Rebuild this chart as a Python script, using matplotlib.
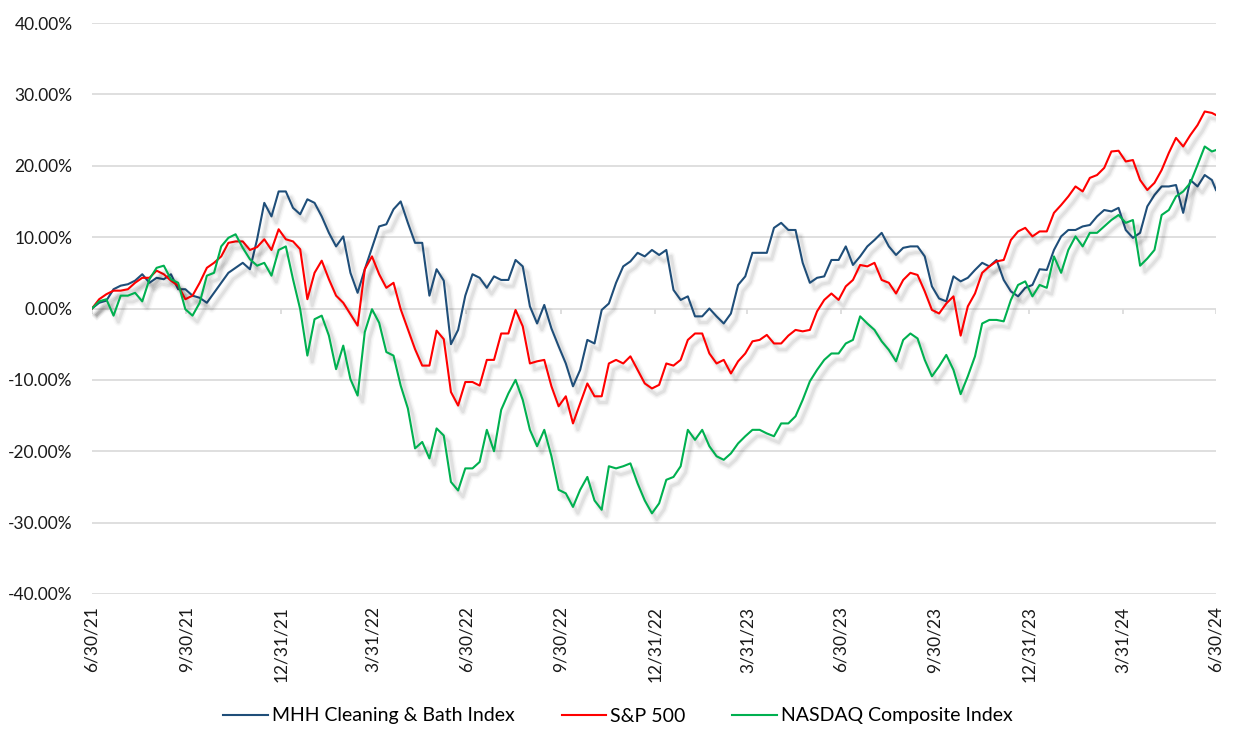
import matplotlib
matplotlib.use("Agg")
import matplotlib.pyplot as plt
import matplotlib.patheffects as pe
import pandas as pd

# weekly readings (% change since 6/30/21), last value is 6/30/24
mhh = [
    0.0, 0.8, 1.1, 2.7, 3.2, 3.4, 3.9, 4.8, 3.6, 4.3,
    4.1, 4.8, 2.7, 2.7, 1.8, 1.5, 0.8, 2.2, 3.6, 5.0,
    5.7, 6.4, 5.5, 9.7, 14.8, 12.9, 16.4, 16.4, 14.1, 13.2,
    15.3, 14.8, 12.9, 10.6, 8.7, 10.1, 5.0, 2.2, 5.5, 8.5,
    11.5, 11.8, 13.9, 15.0, 12.0, 9.2, 9.2, 1.8, 5.5, 3.9,
    -5.0, -3.0, 1.8, 4.8, 4.3, 2.9, 4.5, 4.0, 4.0, 6.8,
    5.9, 0.3, -2.1, 0.5, -2.8, -5.3, -7.7, -10.9, -8.6, -4.4,
    -4.9, -0.2, 0.7, 3.6, 5.9, 6.6, 7.8, 7.3, 8.2, 7.5,
    8.2, 2.6, 1.2, 1.7, -1.1, -1.1, 0.0, -1.1, -2.1, -0.7,
    3.3, 4.5, 7.8, 7.8, 7.8, 11.3, 12.0, 11.0, 11.0, 6.4,
    3.6, 4.3, 4.5, 6.8, 6.8, 8.7, 6.1, 7.3, 8.7, 9.6,
    10.6, 8.7, 7.5, 8.5, 8.7, 8.7, 7.3, 3.1, 1.4, 1.0,
    4.5, 3.8, 4.3, 5.4, 6.4, 5.9, 6.8, 4.0, 2.4, 1.7,
    2.9, 3.3, 5.5, 5.4, 8.2, 10.1, 11.0, 11.0, 11.5, 11.7,
    12.9, 13.8, 13.6, 14.1, 11.0, 9.9, 10.6, 14.3, 15.9, 17.1,
    17.1, 17.3, 13.4, 18.0, 17.1, 18.7, 18.0, 16.6,
]
sp500 = [
    0.0, 1.3, 2.0, 2.5, 2.5, 2.7, 3.6, 4.3, 4.3, 5.3,
    4.8, 3.9, 3.2, 1.3, 1.8, 3.6, 5.7, 6.4, 7.3, 9.2,
    9.4, 9.4, 8.2, 8.6, 9.7, 8.2, 11.1, 9.7, 9.4, 8.3,
    1.3, 5.0, 6.7, 4.1, 1.8, 0.8, -0.8, -2.4, 5.5, 7.3,
    4.8, 2.9, 3.6, -0.1, -2.9, -5.7, -8.0, -8.0, -3.1, -4.3,
    -11.7, -13.6, -10.3, -10.3, -10.8, -7.2, -7.2, -3.5, -3.5, -0.2,
    -2.5, -7.7, -7.4, -7.2, -10.9, -13.7, -12.3, -16.1, -13.3, -10.5,
    -12.3, -12.3, -7.7, -7.2, -7.7, -6.7, -8.6, -10.5, -11.2, -10.7,
    -7.7, -8.0, -7.2, -4.4, -3.5, -3.5, -6.3, -7.7, -7.2, -9.1,
    -7.4, -6.3, -4.6, -4.4, -3.7, -4.9, -4.9, -3.8, -3.0, -3.2,
    -3.0, -0.4, 1.2, 2.1, 1.2, 3.1, 4.0, 6.1, 5.9, 6.4,
    4.0, 3.6, 2.1, 4.0, 5.0, 4.7, 2.4, -0.2, -0.7, 0.7,
    1.7, -3.8, 0.3, 2.1, 5.0, 5.9, 6.6, 6.8, 9.6, 10.8,
    11.3, 10.1, 10.8, 10.8, 13.4, 14.5, 15.7, 17.1, 16.4, 18.3,
    18.7, 19.7, 22.0, 22.1, 20.6, 20.8, 18.0, 16.6, 17.6, 19.4,
    21.8, 23.9, 22.7, 24.3, 25.7, 27.6, 27.4, 27.1,
]
nasdaq = [
    0.0, 1.0, 1.3, -1.0, 1.8, 1.8, 2.2, 1.0, 4.1, 5.7,
    6.0, 4.1, 3.6, -0.1, -1.0, 0.8, 4.6, 5.0, 8.7, 9.9,
    10.4, 8.5, 6.9, 6.0, 6.4, 4.6, 8.2, 8.7, 4.1, -0.1,
    -6.6, -1.5, -1.0, -3.8, -8.5, -5.2, -9.9, -12.2, -3.3, -0.1,
    -2.0, -6.1, -6.6, -10.8, -14.0, -19.6, -18.7, -21.0, -16.8, -17.8,
    -24.3, -25.5, -22.4, -22.4, -21.5, -17.0, -20.0, -14.2, -11.9, -10.0,
    -12.8, -17.0, -19.3, -17.0, -20.7, -25.4, -25.9, -27.8, -25.4, -23.6,
    -26.9, -28.2, -22.1, -22.4, -22.1, -21.7, -24.5, -26.9, -28.7, -27.3,
    -24.0, -23.6, -22.1, -17.0, -18.4, -17.0, -19.3, -20.7, -21.2, -20.3,
    -18.9, -17.9, -17.0, -17.0, -17.5, -17.9, -16.1, -16.1, -15.1, -12.8,
    -10.2, -8.6, -7.2, -6.3, -6.3, -4.9, -4.4, -1.1, -2.1, -3.0,
    -4.6, -5.8, -7.4, -4.4, -3.5, -4.2, -7.2, -9.5, -8.1, -6.5,
    -8.6, -12.0, -9.5, -6.7, -2.1, -1.6, -1.6, -1.8, 1.2, 3.3,
    3.8, 1.7, 3.3, 2.9, 7.3, 5.0, 8.2, 10.1, 8.7, 10.6,
    10.6, 11.5, 12.4, 13.1, 12.0, 12.4, 6.0, 7.0, 8.2, 13.1,
    13.8, 15.7, 16.4, 17.6, 20.1, 22.7, 22.0, 22.2,
]
series_names = ["MHH Cleaning & Bath Index", "S&P 500", "NASDAQ Composite Index"]
series_colors = ["#1F4E79", "#FF0000", "#00B050"]

tick_dates = ["2021-06-30", "2021-09-30", "2021-12-31", "2022-03-31", "2022-06-30",
              "2022-09-30", "2022-12-31", "2023-03-31", "2023-06-30", "2023-09-30",
              "2023-12-31", "2024-03-31", "2024-06-30"]
tick_labels = ["6/30/21", "9/30/21", "12/31/21", "3/31/22", "6/30/22", "9/30/22",
               "12/31/22", "3/31/23", "6/30/23", "9/30/23", "12/31/23", "3/31/24", "6/30/24"]
y_ticks = [-40, -30, -20, -10, 0, 10, 20, 30, 40]

dates = list(pd.date_range("2021-06-30", periods=157, freq="7D")) + [pd.Timestamp("2024-06-30")]
ticks = pd.to_datetime(tick_dates)

plt.rcParams['font.family'] = ['Lato', 'DejaVu Sans']

fig = plt.figure(figsize=(12.33, 7.30), dpi=100)
ax = fig.add_axes([92 / 1233, 1 - 594 / 730, 1124 / 1233, 571 / 730])

grid_col = "#D9D9D9"
for v in y_ticks:
    ax.axhline(v, color=grid_col, lw=1.2, zorder=0)
# category axis crosses at 0 with small tick marks
ax.vlines(ticks, -0.75, 0, color=grid_col, lw=1.2, zorder=0)

# soft drop shadow like the excel chart
shadow = [
    pe.SimpleLineShadow(offset=(3.5, -4.5), shadow_color="black", alpha=0.025, linewidth=6),
    pe.SimpleLineShadow(offset=(3.5, -4.5), shadow_color="black", alpha=0.04, linewidth=4),
    pe.SimpleLineShadow(offset=(3.5, -4.5), shadow_color="black", alpha=0.06, linewidth=2.2),
    pe.Normal(),
]

for vals, name, col in zip([mhh, sp500, nasdaq], series_names, series_colors):
    ax.plot(dates, vals, color=col, lw=1.5, label=name, path_effects=shadow,
            solid_joinstyle="round")

ax.set_xlim(ticks[0], ticks[-1])
ax.set_ylim(-40, 40)
ax.set_yticks(y_ticks)
ax.set_yticklabels([f"{v:.2f}%" for v in y_ticks])
ax.set_xticks(ticks)
ax.set_xticklabels(tick_labels, rotation=90)
ax.tick_params(axis="y", length=0, pad=14, labelsize=12.5, labelcolor="#1a1a1a")
ax.tick_params(axis="x", length=0, pad=9, labelsize=12.5, labelcolor="#1a1a1a")
for s in ax.spines.values():
    s.set_visible(False)

leg = fig.legend(loc="center", bbox_to_anchor=(618 / 1233, 1 - 716 / 730), ncol=3,
                 frameon=False, fontsize=14, handlelength=2.3, handletextpad=0.2,
                 columnspacing=2.4)
for line in leg.get_lines():
    line.set_path_effects([])
    line.set_linewidth(1.5)

fig.savefig("out.png", dpi=100)
